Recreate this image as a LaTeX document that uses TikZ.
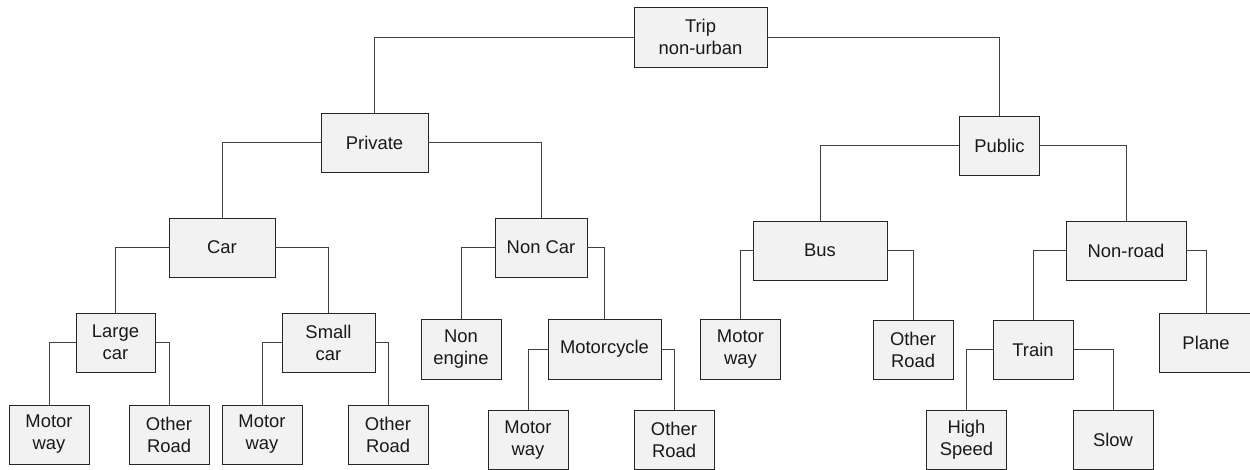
\documentclass[tikz,border=0pt]{standalone}
\usepackage{fontspec}
\setmainfont{Liberation Sans}
\begin{document}
\begin{tikzpicture}[x=1pt,y=-1pt,
  box/.style={draw=black!85, fill=black!5, line width=0.9pt, minimum height=59pt,
    inner sep=0pt, align=center, text=black!90,
    font=\fontsize{18.4}{22}\selectfont},
  link/.style={draw=black!75, line width=0.9pt}]
\useasboundingbox (0,0) rectangle (1250,470);
\clip (0,0) rectangle (1250,470);

% root and first level
\node[box, minimum width=133pt, minimum height=60pt] (trip) at (700.5,37) {Trip\\non-urban};
\node[box, minimum width=107pt] (private) at (374.5,142.5) {Private};
\node[box, minimum width=80pt] (public) at (999.5,145.5) {Public};

% second level
\node[box, minimum width=106pt] (car) at (222,247.5) {Car};
\node[box, minimum width=92pt] (noncar) at (541,247.5) {Non Car};
\node[box, minimum width=134pt] (bus) at (820,250.5) {Bus};
\node[box, minimum width=120pt] (nonroad) at (1126,250.5) {Non-road};

% third level
\node[box, minimum width=79pt] (largecar) at (115.5,342.5) {Large\\car};
\node[box, minimum width=93pt] (smallcar) at (328.5,342.5) {Small\\car};
\node[box, minimum width=80pt, minimum height=60pt] (nonengine) at (461,349) {Non\\engine};
\node[box, minimum width=113pt, minimum height=60pt] (motorcycle) at (604.5,349) {Motorcycle};
\node[box, minimum width=80pt, minimum height=60pt] (busmw) at (740.5,349) {Motor\\way};
\node[box, minimum width=80pt] (busor) at (913,349.5) {Other\\Road};
\node[box, minimum width=80pt] (train) at (1033,349.5) {Train};
\node[box, minimum width=94pt] (plane) at (1206,342.5) {Plane};

% fourth level
\node[box, minimum width=80pt] (lcmw) at (49,434.5) {Motor\\way};
\node[box, minimum width=80pt] (lcor) at (169,434.5) {Other\\Road};
\node[box, minimum width=80pt] (scmw) at (262,434.5) {Motor\\way};
\node[box, minimum width=80pt] (scor) at (388,434.5) {Other\\Road};
\node[box, minimum width=80pt] (mcmw) at (528,440) {Motor\\way};
\node[box, minimum width=80pt] (mcor) at (674,440) {Other\\Road};
\node[box, minimum width=80pt] (hs) at (966.5,440) {High\\Speed};
\node[box, minimum width=80pt] (slow) at (1113,440) {Slow};

% elbow connectors: from the side of a parent across, then down to the child
\draw[link] (trip.west) -| (private.north);
\draw[link] (trip.east) -| (public.north);
\draw[link] (private.west) -| (car.north);
\draw[link] (private.east) -| (noncar.north);
\draw[link] (public.west) -| (bus.north);
\draw[link] (public.east) -| (nonroad.north);
\draw[link] (car.west) -| (largecar.north);
\draw[link] (car.east) -| (smallcar.north);
\draw[link] (noncar.west) -| (nonengine.north);
\draw[link] (noncar.east) -| (motorcycle.north);
\draw[link] (bus.west) -| (busmw.north);
\draw[link] (bus.east) -| (busor.north);
\draw[link] (nonroad.west) -| (train.north);
\draw[link] (nonroad.east) -| (plane.north);
\draw[link] (largecar.west) -| (lcmw.north);
\draw[link] (largecar.east) -| (lcor.north);
\draw[link] (smallcar.west) -| (scmw.north);
\draw[link] (smallcar.east) -| (scor.north);
\draw[link] (motorcycle.west) -| (mcmw.north);
\draw[link] (motorcycle.east) -| (mcor.north);
\draw[link] (train.west) -| (hs.north);
\draw[link] (train.east) -| (slow.north);
\end{tikzpicture}
\end{document}
